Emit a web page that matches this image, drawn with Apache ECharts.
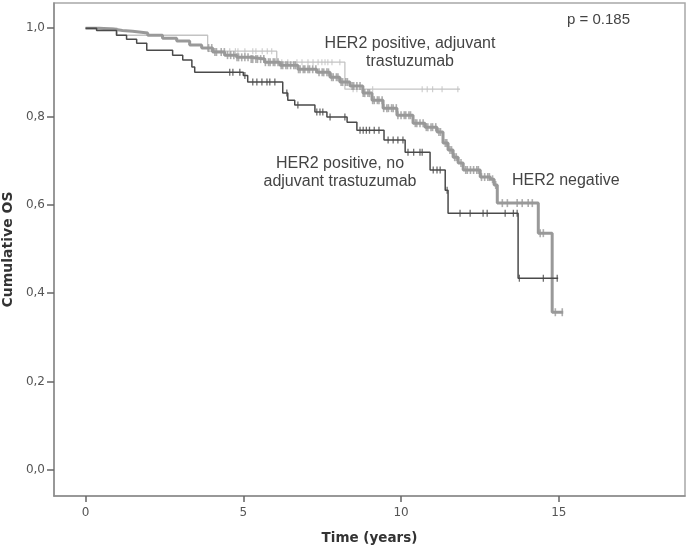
<!DOCTYPE html>
<html>
<head>
<meta charset="utf-8">
<script src="https://cdn.jsdelivr.net/npm/echarts@6/dist/echarts.min.js"></script>
<style>
html,body{margin:0;padding:0;background:#fff;}
#chart{width:687px;height:550px;}
</style>
</head>
<body>
<div id="chart"></div>
<script>
// ---- Data ----
const xTicks = [0, 5, 10, 15];
const yTicks = [0, 0.2, 0.4, 0.6, 0.8, 1.0];

// HER2 positive, adjuvant trastuzumab
const adjTimes  = [0, 1.0, 3.87, 6.06, 8.22, 11.87];
const adjSurv   = [1.0, 0.984, 0.948, 0.923, 0.862, 0.862];
const adjCens   = [4.57, 4.75, 4.83, 5.05, 5.3, 5.4, 5.6, 5.76, 5.9, 6.22, 6.41, 6.7, 6.86, 7.05, 7.21, 7.37, 7.49, 7.59, 7.68, 7.81, 8.06, 8.48, 8.6, 8.79, 9.1, 10.67, 10.83, 11.0, 11.3, 11.8];

// HER2 negative
const negTimes  = [0, 0.44, 0.86, 1.17, 1.49, 1.97, 2.44, 2.89, 3.30, 3.68, 4.03, 4.41, 4.79, 5.21, 5.68, 6.16, 6.73, 7.33, 7.75, 8.06, 8.38, 8.79, 9.08, 9.43, 9.87, 10.38, 10.76, 11.14, 11.33, 11.49, 11.65, 11.81, 11.97, 12.51, 12.83, 12.95, 13.05, 14.35, 14.79, 15.14];
const negSurv   = [1.0, 0.998, 0.995, 0.993, 0.989, 0.984, 0.977, 0.971, 0.962, 0.955, 0.946, 0.939, 0.934, 0.930, 0.923, 0.916, 0.907, 0.900, 0.889, 0.878, 0.869, 0.853, 0.837, 0.819, 0.803, 0.785, 0.776, 0.765, 0.740, 0.724, 0.708, 0.695, 0.679, 0.663, 0.658, 0.645, 0.604, 0.536, 0.357, 0.357];
const negCens   = [3.9, 4.0, 4.1, 4.15, 4.3, 4.4, 4.5, 4.6, 4.7, 4.8, 4.85, 4.95, 5.05, 5.15, 5.25, 5.3, 5.4, 5.45, 5.55, 5.65, 5.7, 5.8, 5.85, 5.95, 6.0, 6.1, 6.2, 6.25, 6.35, 6.4, 6.5, 6.6, 6.65, 6.75, 6.8, 6.9, 6.95, 7.05, 7.1, 7.2, 7.3, 7.4, 7.5, 7.55, 7.65, 7.7, 7.8, 7.85, 7.95, 8.0, 8.1, 8.15, 8.25, 8.3, 8.45, 8.5, 8.6, 8.7, 8.8, 8.85, 8.95, 9.0, 9.1, 9.15, 9.25, 9.3, 9.4, 9.45, 9.55, 9.6, 9.7, 9.75, 9.85, 9.9, 10.0, 10.1, 10.15, 10.25, 10.3, 10.45, 10.5, 10.6, 10.7, 10.8, 10.85, 10.95, 11.0, 11.1, 11.2, 11.25, 11.4, 11.45, 11.55, 11.6, 11.7, 11.75, 11.9, 12.05, 12.1, 12.2, 12.3, 12.4, 12.45, 12.55, 12.65, 12.75, 12.8, 12.9, 13.0, 13.21, 13.37, 13.68, 13.84, 14.03, 14.16, 14.41, 14.51, 14.89, 15.11];

// HER2 positive, no adjuvant trastuzumab
const noTimes   = [0, 0.35, 0.98, 1.30, 1.62, 1.94, 2.76, 3.08, 3.37, 3.46, 5.0, 5.14, 6.25, 6.41, 6.63, 7.27, 7.65, 8.29, 8.60, 9.46, 10.13, 10.92, 11.40, 11.49, 13.71, 14.98];
const noSurv    = [1.0, 0.995, 0.984, 0.975, 0.966, 0.950, 0.939, 0.928, 0.912, 0.900, 0.893, 0.878, 0.853, 0.837, 0.826, 0.810, 0.799, 0.787, 0.769, 0.747, 0.719, 0.679, 0.633, 0.581, 0.434, 0.434];
const noCens    = [4.57, 4.67, 4.89, 5.05, 5.30, 5.43, 5.59, 5.75, 5.84, 6.0, 6.38, 6.73, 7.33, 7.43, 7.52, 7.75, 8.22, 8.70, 8.80, 8.90, 9.0, 9.15, 9.3, 9.59, 9.75, 9.9, 10.06, 10.22, 10.4, 10.6, 10.67, 11.02, 11.14, 11.24, 11.46, 11.87, 12.19, 12.6, 12.73, 13.3, 13.56, 13.68, 13.75, 14.51, 14.95];

// ---- helpers ----
function pairs(ts, ss){ return ts.map((t,i)=>[t, ss[i]]); }
function survAt(ts, ss, t){ let v = ss[0]; for (let i=0;i<ts.length;i++){ if (ts[i] <= t) v = ss[i]; } return v; }
function censPts(cs, ts, ss){ return cs.map(t=>[t, survAt(ts, ss, t)]); }

const cLight = '#c3c3c3', cMid = '#999999', cDark = '#4a4a4a';

const chart = echarts.init(document.getElementById('chart'), null, {renderer:'canvas'});
chart.setOption({
  animation: false,
  backgroundColor: '#fff',
  grid: { left: 54, top: 3, right: 2, bottom: 54, show: true, borderColor: '#a8a8a8', borderWidth: 1.5, backgroundColor: 'transparent',
          containLabel: false, outerBoundsMode: 'none' },
  xAxis: {
    type: 'value', min: -1, max: 19,
    axisLine: { show: true, onZero: false, lineStyle: { color: '#8c8c8c', width: 1.5 } },
    axisTick: { show: true, customValues: xTicks, length: 6, lineStyle: { color: '#666', width: 1.5 } },
    axisLabel: { customValues: xTicks, color: '#555', fontSize: 12, fontFamily: 'DejaVu Sans', margin: 11 },
    splitLine: { show: false },
    name: 'Time (years)', nameLocation: 'middle', nameGap: 35,
    nameTextStyle: { fontFamily: 'DejaVu Sans', fontWeight: 'bold', fontSize: 13.5, color: '#333' }
  },
  yAxis: {
    type: 'value', min: -0.059, max: 1.057,
    axisLine: { show: true, onZero: false, lineStyle: { color: '#8c8c8c', width: 1.5 } },
    axisTick: { show: true, customValues: yTicks, length: 7, lineStyle: { color: '#666', width: 1.5 } },
    axisLabel: { customValues: yTicks, color: '#555', fontSize: 12, fontFamily: 'DejaVu Sans', margin: 9,
      formatter: v => v.toFixed(1).replace('.', ',') },
    splitLine: { show: false },
    name: 'Cumulative OS', nameLocation: 'middle', nameGap: 34,
    nameTextStyle: { fontFamily: 'DejaVu Sans', fontWeight: 'bold', fontSize: 14, color: '#333' }
  },
  series: [
    { name: 'adj', type: 'line', step: 'end', data: pairs(adjTimes, adjSurv), showSymbol: false, symbol: 'none',
      lineStyle: { color: cLight, width: 1.3 }, z: 2 },
    { name: 'adjC', type: 'scatter', data: censPts(adjCens, adjTimes, adjSurv), symbol: 'rect', symbolSize: [1.2, 6],
      itemStyle: { color: cLight }, z: 2 },
    { name: 'neg', type: 'line', step: 'end', data: pairs(negTimes, negSurv), showSymbol: false, symbol: 'none',
      lineStyle: { color: cMid, width: 3 }, z: 3 },
    { name: 'negC', type: 'scatter', data: censPts(negCens, negTimes, negSurv), symbol: 'rect', symbolSize: [1.6, 8],
      itemStyle: { color: cMid }, z: 3 },
    { name: 'no', type: 'line', step: 'end', data: pairs(noTimes, noSurv), showSymbol: false, symbol: 'none',
      lineStyle: { color: cDark, width: 1.5 }, z: 4 },
    { name: 'noC', type: 'scatter', data: censPts(noCens, noTimes, noSurv), symbol: 'rect', symbolSize: [1.3, 7],
      itemStyle: { color: cDark }, z: 4 }
  ],
  graphic: [
    { type: 'text', left: 567, top: 12, style: { text: 'p = 0.185', font: '15px "Liberation Sans", Arial', fill: '#444' } },
    { type: 'text', x: 410, y: 35, style: { text: 'HER2 positive, adjuvant\ntrastuzumab', font: '16px "Liberation Sans", Arial', fill: '#444', align: 'center', lineHeight: 18 } },
    { type: 'text', x: 340, y: 155, style: { text: 'HER2 positive, no\nadjuvant trastuzumab', font: '16px "Liberation Sans", Arial', fill: '#444', align: 'center', lineHeight: 18 } },
    { type: 'text', x: 512, y: 173, style: { text: 'HER2 negative', font: '16px "Liberation Sans", Arial', fill: '#444' } }
  ]
});
</script>
</body>
</html>
